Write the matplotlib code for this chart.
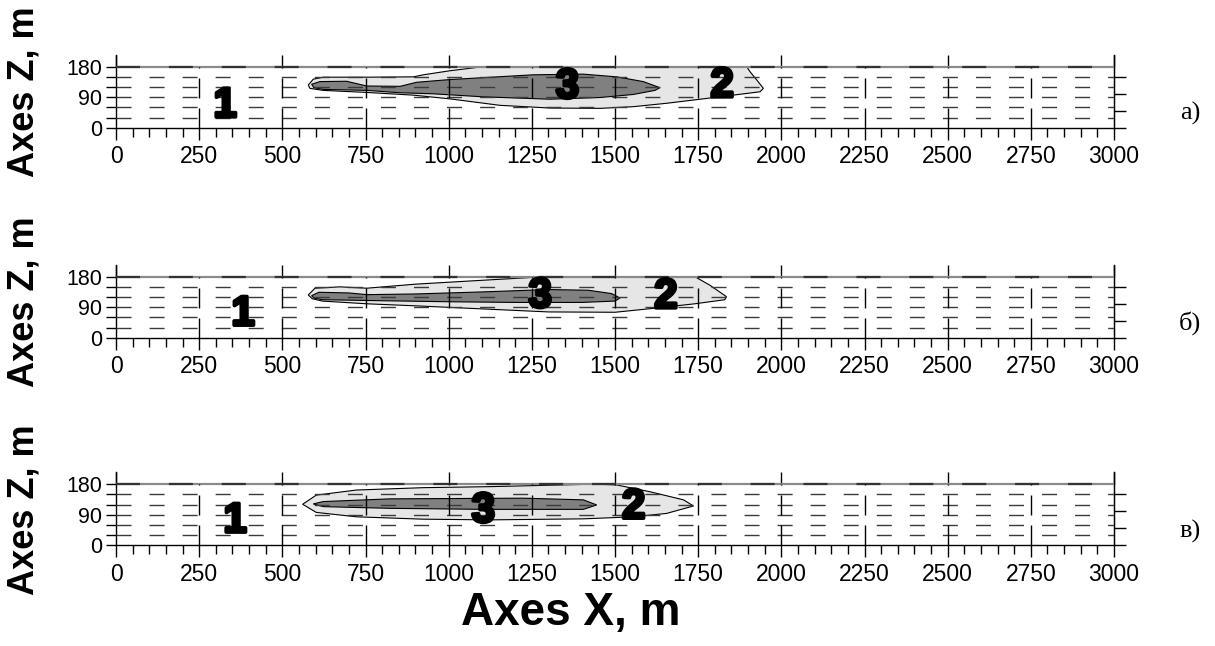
import numpy as np
import matplotlib.pyplot as plt
from matplotlib.ticker import MultipleLocator, FixedLocator, NullFormatter
import matplotlib.patheffects as pe

plt.rcParams["font.family"] = ["Liberation Sans", "DejaVu Sans"]

# ---------------------------------------------------------------------------
# data, x in m, z in m
# ---------------------------------------------------------------------------
PANEL_TAGS = ["a)", "б)", "в)"]

# zone 2 (light grey) outlines, panel a / б / в
LIGHT_X_A = [578, 593, 623, 754, 894, 924, 1004, 1104, 1896, 1906, 1926, 1946, 1936,
             1855, 1756, 1655, 1555, 1455, 1305, 1154, 1004, 894, 754, 623, 583]
LIGHT_Z_A = [126, 143, 149, 149, 150, 156, 168, 180, 180, 165, 141, 116, 106,
             96, 84, 72, 62, 57, 58, 66, 85, 96, 104, 110, 116]
LIGHT_X_B = [578, 598, 673, 754, 902, 1024, 1255, 1270, 1740, 1785, 1835, 1830,
             1740, 1600, 1500, 1300, 1100, 900, 754, 620, 590]
LIGHT_Z_B = [126, 146, 150, 146, 158, 165, 178, 180, 180, 155, 121, 112,
             100, 85, 75, 76, 85, 94, 100, 108, 115]
LIGHT_X_C = [561, 602, 723, 924, 1124, 1425, 1455, 1505, 1605, 1706, 1736,
             1655, 1555, 1405, 1124, 924, 723, 602]
LIGHT_Z_C = [121, 148, 163, 170, 173, 180, 180, 178, 158, 134, 116,
             94, 84, 78, 75, 77, 84, 97]

# zone 3 (dark grey) outlines
DARK_X_A = [588, 613, 693, 723, 754, 854, 904, 1004, 1254, 1404, 1505, 1585, 1635,
            1620, 1555, 1455, 1305, 1104, 953, 854, 754, 623, 595]
DARK_Z_A = [128, 136, 137, 130, 123, 122, 134, 142, 156, 158, 150, 136, 118,
            110, 98, 89, 84, 91, 100, 103, 110, 113, 118]
DARK_X_B = [588, 610, 700, 754, 900, 1100, 1300, 1420, 1490, 1515,
            1500, 1400, 1200, 1000, 800, 620, 595]
DARK_Z_B = [124, 134, 132, 127, 129, 135, 142, 140, 130, 117,
            108, 104, 104, 106, 109, 112, 117]
DARK_X_C = [593, 623, 824, 1224, 1405, 1445, 1405, 1104, 824, 623]
DARK_Z_C = [122, 129, 137, 139, 134, 119, 106, 106, 109, 114]

LIGHT_X = [LIGHT_X_A, LIGHT_X_B, LIGHT_X_C]
LIGHT_Z = [LIGHT_Z_A, LIGHT_Z_B, LIGHT_Z_C]
DARK_X = [DARK_X_A, DARK_X_B, DARK_X_C]
DARK_Z = [DARK_Z_A, DARK_Z_B, DARK_Z_C]

# zone labels "1", "2", "3": x centre and baseline z for each panel
ZONE_NAMES = ["1", "2", "3"]
ZONE_X = [[328, 1822, 1357], [382, 1653, 1275], [358, 1556, 1104]]
ZONE_Z = [[32, 91, 88], [37, 88, 90], [39, 80, 69]]

X_MAX = 3000
Z_TOP = 180
Z_FRAME = 215

# ---------------------------------------------------------------------------
W, H = 1215, 646
fig = plt.figure(figsize=(W / 100, H / 100), dpi=100)

AX_LEFT = 116 / W
AX_W = 998 / W
AX_H = 72.9 / H
ZERO_PX = [127.7, 337.7, 545.3]   # pixel row of z = 0 in each panel

for i in range(3):
    bottom = 1 - ZERO_PX[i] / H
    ax = fig.add_axes([AX_LEFT, bottom, AX_W, AX_H])
    ax.set_xlim(0, X_MAX)
    ax.set_ylim(0, Z_FRAME)

    # contour zones
    ax.fill(LIGHT_X[i], LIGHT_Z[i], facecolor="#e6e6e6", edgecolor="black", lw=0.8, zorder=1)
    ax.fill(DARK_X[i], DARK_Z[i], facecolor="#808080", edgecolor="black", lw=0.8, zorder=2)

    # dashed grid
    ax.hlines(np.arange(30, Z_TOP, 30), 0, X_MAX, colors="#3a3a3a", lw=1.0,
              linestyles=[(0, (10.8, 13.0))], zorder=3)
    ax.hlines([Z_TOP], 0, X_MAX, colors="#8a8a8a", lw=1.6, zorder=3)
    ax.hlines([Z_TOP], 0, X_MAX, colors="#333333", lw=1.6,
              linestyles=[(0, (10.8, 13.0))], zorder=3)
    ax.vlines(np.arange(250, X_MAX, 250), 0, Z_TOP, colors="black", lw=1.0,
              linestyles=[(0, (14.4, 7.2))], zorder=3)

    for name, zx, zz in zip(ZONE_NAMES, ZONE_X[i], ZONE_Z[i]):
        ax.text(zx, zz, name, ha="center", va="baseline", fontsize=30,
                fontweight="bold", color="black", zorder=5,
                path_effects=[pe.withStroke(linewidth=2.6, foreground="black")])

    # frame and ticks
    ax.spines["top"].set_visible(False)
    for s in ("left", "right", "bottom"):
        ax.spines[s].set_linewidth(1.0)
    ax.xaxis.set_major_locator(MultipleLocator(250))
    ax.xaxis.set_minor_locator(MultipleLocator(50))
    ax.yaxis.set_major_locator(FixedLocator([0, 90, 180]))
    ax.yaxis.set_minor_locator(FixedLocator([30, 60, 120, 150]))
    ax.tick_params(axis="x", which="major", direction="out", length=8.6, width=1.0,
                   labelsize=16.5, pad=4, top=False)
    ax.tick_params(axis="x", which="minor", direction="out", length=6.5, width=1.0, top=False)
    ax.tick_params(axis="y", which="both", direction="out", length=7.0, width=1.0,
                   labelsize=15.5, pad=3, right=False)

    top = ax.secondary_xaxis(Z_TOP / Z_FRAME)
    top.xaxis.set_major_locator(MultipleLocator(500))
    top.xaxis.set_major_formatter(NullFormatter())
    top.tick_params(direction="out", length=8.6, width=1.0)
    top.spines["top"].set_visible(False)

    right = ax.secondary_yaxis("right")
    right.yaxis.set_major_locator(FixedLocator([0, 50, 100, 150]))
    right.yaxis.set_major_formatter(NullFormatter())
    right.tick_params(direction="out", length=8.6, width=1.0)

    # panel tag and axis title
    fig.text(1190 / W, 1 - (ZERO_PX[i] - 8) / H, PANEL_TAGS[i], ha="center",
             va="baseline", fontsize=19, family=["Liberation Serif", "DejaVu Serif"])
    fig.text(24 / W, 1 - (ZERO_PX[i] - 36) / H, "Axes Z, m", rotation=90,
             ha="center", va="center", fontsize=26, fontweight="bold")

fig.text(571 / W, 1 - 613 / H, "Axes X, m", ha="center", va="center",
         fontsize=33, fontweight="bold")

fig.savefig("out.png", dpi=100)
